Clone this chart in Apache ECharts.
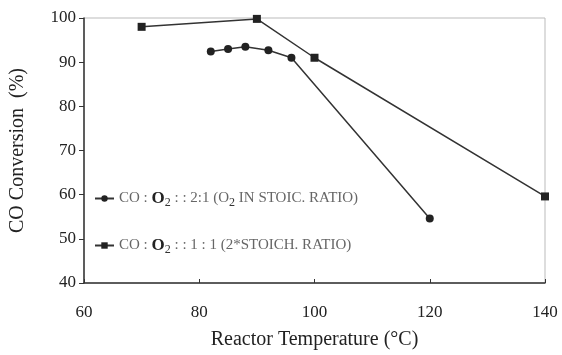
<!DOCTYPE html>
<html><head><meta charset="utf-8">
<script src="https://cdn.jsdelivr.net/npm/echarts@6/dist/echarts.min.js"></script>
<style>html,body{margin:0;padding:0;background:#fff}#c{width:562px;height:355px}</style>
</head><body><div id="c"></div>
<script>
const xTicks = [60, 80, 100, 120, 140];
const yTicks = [40, 50, 60, 70, 80, 90, 100];
const s1Name = "CO : O2 : : 2:1 (O2 IN STOIC. RATIO)";
const s1X = [82, 85, 88, 92, 96, 120];
const s1Y = [92.4, 93.0, 93.5, 92.7, 91.0, 54.6];
const s2Name = "CO : O2 : : 1 : 1 (2*STOICH. RATIO)";
const s2X = [70, 90, 100, 140];
const s2Y = [98.0, 99.8, 91.0, 59.6];

const chart = echarts.init(document.getElementById('c'), null, {renderer: 'canvas'});
const serif = "'Liberation Serif', 'Times New Roman', serif";
const rich = {
  t: {fontFamily: serif, fontSize: 15, color: '#666'},
  b: {fontFamily: serif, fontSize: 17, color: '#222', fontWeight: 'bold'},
  s: {fontFamily: serif, fontSize: 12, color: '#333', verticalAlign: 'bottom', padding: [9, 0, 0, 0]}
};
function fmt(name) {
  if (name === s1Name) return '{t|CO : }{b|O}{s|2}{t| : : 2:1 (O}{s|2}{t| IN STOIC. RATIO)}';
  return '{t|CO : }{b|O}{s|2}{t| : : 1 : 1 (2*STOICH. RATIO)}';
}
chart.setOption({
  animation: false,
  grid: {left: 81, right: 17, top: 18, bottom: 69, show: true, borderColor: '#bbb', borderWidth: 1},
  legend: {
    orient: 'vertical', left: 89, top: 185, itemGap: 28, itemWidth: 19, itemHeight: 8,
    data: [s1Name, s2Name], formatter: fmt,
    textStyle: {rich: rich, fontFamily: serif, fontSize: 15, color: '#666'}
  },
  xAxis: {
    type: 'value', min: 60, max: 140, interval: 20,
    name: 'Reactor Temperature (°C)', nameLocation: 'middle', nameGap: 47,
    nameTextStyle: {fontFamily: serif, fontSize: 20, color: '#222'},
    axisLine: {lineStyle: {color: '#333', width: 1.5}},
    axisTick: {inside: true, length: 4, lineStyle: {color: '#333'}},
    axisLabel: {fontFamily: serif, fontSize: 17, color: '#222', margin: 21,
      formatter: v => xTicks.includes(v) ? String(v) : ''},
    splitLine: {show: false}
  },
  yAxis: {
    type: 'value', min: 40, max: 100, interval: 10,
    name: 'CO Conversion  (%)', nameLocation: 'middle', nameGap: 56,
    nameTextStyle: {fontFamily: serif, fontSize: 20, color: '#222'},
    axisLine: {show: true, lineStyle: {color: '#333', width: 1.5}},
    axisTick: {show: true, length: 5, lineStyle: {color: '#333'}},
    axisLabel: {fontFamily: serif, fontSize: 17, color: '#222', margin: 8,
      formatter: v => yTicks.includes(v) ? String(v) : ''},
    splitLine: {show: false}
  },
  series: [
    {name: s1Name, type: 'line', data: s1X.map((x, i) => [x, s1Y[i]]),
      symbol: 'circle', symbolSize: 8, lineStyle: {color: '#333', width: 1.5},
      itemStyle: {color: '#222'}},
    {name: s2Name, type: 'line', data: s2X.map((x, i) => [x, s2Y[i]]),
      symbol: 'rect', symbolSize: 8, lineStyle: {color: '#333', width: 1.5},
      itemStyle: {color: '#222'}}
  ]
});
</script></body></html>
